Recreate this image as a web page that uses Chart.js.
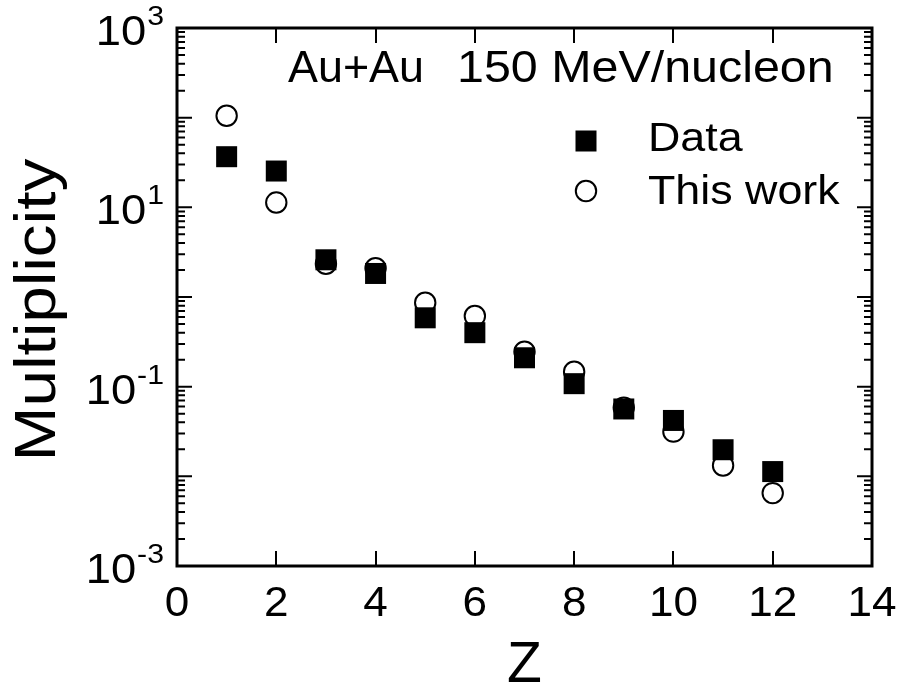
<!DOCTYPE html>
<html>
<head>
<meta charset="utf-8">
<script src="https://cdn.jsdelivr.net/npm/chart.js@4.4.1/dist/chart.umd.min.js"></script>
<style>
  html, body { margin: 0; padding: 0; background: #fff; }
  #wrap { width: 900px; height: 685px; }
</style>
</head>
<body>
<div id="wrap"><canvas id="chart" width="900" height="685"></canvas></div>
<script>
// Fragment multiplicity vs charge Z, Au+Au at 150 MeV/nucleon
const zValues = [1, 2, 3, 4, 5, 6, 7, 8, 9, 10, 11, 12];
const dataMult = [36.7, 25.4, 2.6, 1.83, 0.586, 0.40, 0.21, 0.108, 0.0564, 0.042, 0.0198, 0.0113];
const workMult = [105, 11.3, 2.35, 2.09, 0.865, 0.614, 0.245, 0.147, 0.0584, 0.0315, 0.0132, 0.0065];
const xTickValues = [0, 2, 4, 6, 8, 10, 12, 14];
const yLabelExps = [3, 1, -1, -3];
const seriesNames = ['Data', 'This work'];
const headerLeft = 'Au+Au';
const headerRight = '150 MeV/nucleon';

const FONT = '"Liberation Sans", Arial, Helvetica, sans-serif';

function toPoints(xs, ys) {
  return xs.map((x, i) => ({ x: x, y: ys[i] }));
}

// draw text with an optional horizontal stretch
function stretchedText(ctx, text, x, y, size, align, sx) {
  ctx.save();
  ctx.font = size + 'px ' + FONT;
  ctx.textBaseline = 'alphabetic';
  ctx.textAlign = align;
  ctx.translate(x, y);
  ctx.scale(sx || 1, 1);
  ctx.fillText(text, 0, 0);
  ctx.restore();
}

const framePlugin = {
  id: 'frame',
  beforeDatasetsDraw(chart) {
    const { ctx, chartArea: a, scales } = chart;
    const xs = scales.x, ys = scales.y;
    ctx.save();
    ctx.strokeStyle = '#000';
    ctx.fillStyle = '#000';

    // ticks on all four sides, pointing inward
    ctx.lineWidth = 2;
    ctx.beginPath();
    xTickValues.forEach(v => {
      const px = Math.round(xs.getPixelForValue(v));
      ctx.moveTo(px, a.bottom); ctx.lineTo(px, a.bottom - 15);
      ctx.moveTo(px, a.top); ctx.lineTo(px, a.top + 15);
    });
    for (let e = -3; e <= 3; e++) {
      for (let m = 1; m <= 9; m++) {
        if (e === 3 && m > 1) break;
        const py = ys.getPixelForValue(m * Math.pow(10, e));
        const len = m === 1 ? 15 : 8;
        ctx.moveTo(a.left, py); ctx.lineTo(a.left + len, py);
        ctx.moveTo(a.right, py); ctx.lineTo(a.right - len, py);
      }
    }
    ctx.stroke();

    // frame
    ctx.lineWidth = 3;
    ctx.strokeRect(a.left, a.top, a.right - a.left, a.bottom - a.top);

    // x tick labels
    xTickValues.forEach(v => {
      stretchedText(ctx, String(v), xs.getPixelForValue(v), 616, 42, 'center', 1.05);
    });

    // y tick labels with superscript exponent
    yLabelExps.forEach(e => {
      const py = ys.getPixelForValue(Math.pow(10, e));
      const sup = String(e);
      ctx.font = '28px ' + FONT;
      const supW = ctx.measureText(sup).width * 1.08;
      const right = 164;
      stretchedText(ctx, sup, right, py - 3, 28, 'right', 1.08);
      stretchedText(ctx, '10', right - supW - 1, py + 17, 42, 'right', 1.08);
    });

    // axis titles
    stretchedText(ctx, 'Z', (a.left + a.right) / 2, 682, 57, 'center', 1);
    ctx.save();
    ctx.translate(55, 310);
    ctx.rotate(-Math.PI / 2);
    stretchedText(ctx, 'Multiplicity', 0, 0, 57, 'center', 1.15);
    ctx.restore();

    // header
    stretchedText(ctx, headerLeft, 288, 82, 44, 'left', 1.02);
    stretchedText(ctx, headerRight, 457, 82, 44, 'left', 1.10);

    // legend
    const ds = chart.data.datasets;
    ctx.fillStyle = '#000';
    ctx.fillRect(586 - 10.5, 141 - 10.5, 21, 21);
    ctx.lineWidth = 2;
    ctx.beginPath();
    ctx.arc(586, 191, 10.2, 0, Math.PI * 2);
    ctx.fillStyle = '#fff';
    ctx.fill();
    ctx.stroke();
    ctx.fillStyle = '#000';
    stretchedText(ctx, ds[0].label, 648, 151, 40, 'left', 1.12);
    stretchedText(ctx, ds[1].label, 648, 204, 40, 'left', 1.12);

    ctx.restore();
  }
};

new Chart(document.getElementById('chart').getContext('2d'), {
  type: 'scatter',
  data: {
    datasets: [
      {
        label: seriesNames[0],
        data: toPoints(zValues, dataMult),
        pointStyle: 'rect',
        pointRadius: 14.85,
        pointHoverRadius: 14.85,
        backgroundColor: '#000',
        borderColor: '#000',
        borderWidth: 0
      },
      {
        label: seriesNames[1],
        data: toPoints(zValues, workMult),
        pointStyle: 'circle',
        pointRadius: 10.2,
        pointHoverRadius: 10.2,
        backgroundColor: '#fff',
        borderColor: '#000',
        borderWidth: 2
      }
    ]
  },
  options: {
    responsive: false,
    animation: false,
    devicePixelRatio: 1,
    layout: { padding: { top: 28, right: 28, left: 0, bottom: 0 } },
    plugins: { legend: { display: false }, tooltip: { enabled: false } },
    scales: {
      x: {
        type: 'linear', min: 0, max: 14,
        grid: { display: false, drawTicks: false },
        border: { display: false },
        ticks: { display: false, stepSize: 2 },
        afterFit(scale) { scale.height = 119; }
      },
      y: {
        type: 'logarithmic', min: 1e-3, max: 1e3,
        grid: { display: false, drawTicks: false },
        border: { display: false },
        ticks: { display: false },
        afterFit(scale) { scale.width = 177; }
      }
    }
  },
  plugins: [framePlugin]
});
</script>
</body>
</html>
